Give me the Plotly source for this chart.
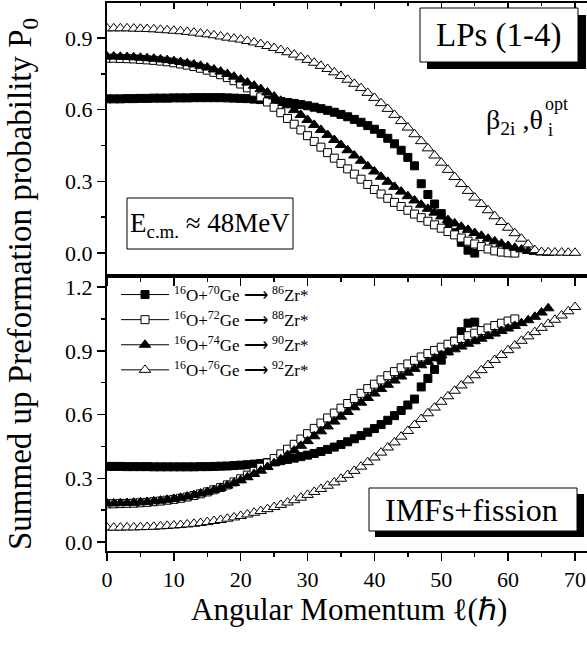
import plotly.graph_objects as go

FONT = "Liberation Serif, Times New Roman, serif"

# Angular momentum grid (hbar units)
ell = [0, 1, 2, 3, 4, 5, 6, 7, 8, 9, 10, 11, 12, 13, 14, 15, 16, 17, 18, 19,
       20, 21, 22, 23, 24, 25, 26, 27, 28, 29, 30, 31, 32, 33, 34, 35, 36, 37, 38, 39,
       40, 41, 42, 43, 44, 45, 46, 47, 48, 49, 50, 51, 52, 53, 54, 55, 56, 57, 58, 59,
       60, 61, 62, 63, 64, 65, 66, 67, 68, 69, 70]

# ---- upper panel: LPs (1-4) ----
lp_70 = [0.645, 0.645, 0.645, 0.646, 0.646, 0.647, 0.647, 0.648, 0.648, 0.648,
         0.649, 0.649, 0.649, 0.650, 0.650, 0.650, 0.650, 0.650, 0.649, 0.648,
         0.647, 0.646, 0.644, 0.642, 0.640, 0.637, 0.634, 0.630, 0.626, 0.621,
         0.616, 0.610, 0.604, 0.597, 0.589, 0.580, 0.570, 0.559, 0.547, 0.533,
         0.518, 0.500, 0.480, 0.457, 0.430, 0.400, 0.365, 0.290, 0.245, 0.205,
         0.165, 0.125, 0.085, 0.045, 0.012, 0.000]
lp_72 = [0.815, 0.815, 0.814, 0.813, 0.812, 0.810, 0.808, 0.806, 0.803, 0.800,
         0.796, 0.791, 0.786, 0.780, 0.773, 0.765, 0.756, 0.746, 0.734, 0.721,
         0.707, 0.691, 0.673, 0.653, 0.632, 0.610, 0.587, 0.563, 0.539, 0.515,
         0.491, 0.467, 0.443, 0.420, 0.397, 0.375, 0.352, 0.330, 0.309, 0.287,
         0.266, 0.247, 0.229, 0.212, 0.195, 0.179, 0.163, 0.148, 0.133, 0.118,
         0.104, 0.090, 0.076, 0.063, 0.050, 0.038, 0.027, 0.017, 0.009, 0.004,
         0.001, 0.000]
lp_74 = [0.822, 0.822, 0.821, 0.820, 0.819, 0.817, 0.815, 0.813, 0.810, 0.807,
         0.803, 0.799, 0.794, 0.789, 0.783, 0.776, 0.768, 0.759, 0.749, 0.738,
         0.726, 0.713, 0.700, 0.686, 0.672, 0.655, 0.637, 0.618, 0.598, 0.578,
         0.557, 0.536, 0.515, 0.494, 0.473, 0.452, 0.430, 0.408, 0.386, 0.363,
         0.341, 0.319, 0.298, 0.277, 0.257, 0.238, 0.220, 0.202, 0.185, 0.169,
         0.153, 0.138, 0.124, 0.110, 0.097, 0.084, 0.072, 0.060, 0.049, 0.039,
         0.030, 0.022, 0.015, 0.009, 0.005, 0.002, 0.001]
lp_76 = [0.940, 0.940, 0.940, 0.940, 0.939, 0.938, 0.937, 0.936, 0.934, 0.932,
         0.930, 0.928, 0.925, 0.922, 0.918, 0.915, 0.911, 0.906, 0.901, 0.897,
         0.893, 0.887, 0.881, 0.874, 0.866, 0.858, 0.849, 0.840, 0.830, 0.819,
         0.808, 0.796, 0.783, 0.770, 0.756, 0.741, 0.725, 0.708, 0.690, 0.670,
         0.649, 0.627, 0.603, 0.578, 0.552, 0.525, 0.497, 0.468, 0.438, 0.408,
         0.378, 0.348, 0.318, 0.289, 0.260, 0.232, 0.205, 0.179, 0.154, 0.130,
         0.106, 0.083, 0.060, 0.036, 0.012, 0.004, 0.003, 0.002, 0.002, 0.001,
         0.001]

# ---- lower panel: IMFs+fission ----
imf_70 = [0.356, 0.356, 0.356, 0.355, 0.355, 0.355, 0.355, 0.354, 0.354, 0.354,
          0.354, 0.354, 0.354, 0.354, 0.355, 0.355, 0.356, 0.357, 0.358, 0.360,
          0.362, 0.364, 0.367, 0.370, 0.374, 0.378, 0.383, 0.389, 0.395, 0.402,
          0.409, 0.417, 0.426, 0.436, 0.447, 0.459, 0.472, 0.486, 0.501, 0.517,
          0.534, 0.553, 0.573, 0.595, 0.619, 0.645, 0.673, 0.730, 0.770, 0.812,
          0.856, 0.900, 0.945, 0.990, 1.030, 1.035]
imf_72 = [0.180, 0.180, 0.181, 0.182, 0.183, 0.185, 0.187, 0.190, 0.193, 0.197,
          0.201, 0.206, 0.212, 0.219, 0.227, 0.236, 0.246, 0.257, 0.269, 0.283,
          0.298, 0.315, 0.333, 0.352, 0.372, 0.393, 0.415, 0.437, 0.460, 0.485,
          0.510, 0.535, 0.560, 0.584, 0.607, 0.630, 0.652, 0.675, 0.700, 0.722,
          0.743, 0.763, 0.783, 0.802, 0.820, 0.838, 0.855, 0.871, 0.887, 0.902,
          0.917, 0.931, 0.945, 0.958, 0.971, 0.983, 0.995, 1.007, 1.019, 1.030,
          1.040, 1.050]
imf_74 = [0.182, 0.182, 0.183, 0.184, 0.185, 0.187, 0.189, 0.192, 0.195, 0.199,
          0.203, 0.208, 0.214, 0.221, 0.228, 0.236, 0.245, 0.255, 0.266, 0.278,
          0.291, 0.305, 0.320, 0.336, 0.353, 0.371, 0.390, 0.410, 0.431, 0.453,
          0.475, 0.498, 0.521, 0.544, 0.567, 0.590, 0.612, 0.634, 0.656, 0.678,
          0.699, 0.720, 0.740, 0.760, 0.779, 0.797, 0.815, 0.832, 0.848, 0.864,
          0.879, 0.893, 0.907, 0.920, 0.933, 0.945, 0.957, 0.969, 0.981, 0.993,
          1.005, 1.017, 1.030, 1.044, 1.060, 1.080, 1.100]
imf_76 = [0.068, 0.068, 0.068, 0.069, 0.069, 0.070, 0.071, 0.072, 0.074, 0.076,
          0.078, 0.080, 0.083, 0.086, 0.090, 0.094, 0.099, 0.104, 0.110, 0.116,
          0.123, 0.130, 0.138, 0.146, 0.155, 0.165, 0.175, 0.186, 0.197, 0.209,
          0.222, 0.236, 0.250, 0.265, 0.281, 0.298, 0.316, 0.335, 0.355, 0.376,
          0.398, 0.421, 0.445, 0.469, 0.496, 0.523, 0.551, 0.579, 0.606, 0.633,
          0.660, 0.686, 0.712, 0.737, 0.761, 0.785, 0.809, 0.833, 0.857, 0.880,
          0.903, 0.925, 0.947, 0.968, 0.988, 1.008, 1.027, 1.046, 1.066, 1.086,
          1.106]

labels = [
    "<sup>16</sup>O+<sup>70</sup>Ge \u27f6 <sup>86</sup>Zr*",
    "<sup>16</sup>O+<sup>72</sup>Ge \u27f6 <sup>88</sup>Zr*",
    "<sup>16</sup>O+<sup>74</sup>Ge \u27f6 <sup>90</sup>Zr*",
    "<sup>16</sup>O+<sup>76</sup>Ge \u27f6 <sup>92</sup>Zr*",
]
symbols = ["square", "square", "triangle-up", "triangle-up"]
fills = ["black", "white", "black", "white"]
sizes = [8, 8, 10, 10]
lp_sets = [lp_70, lp_72, lp_74, lp_76]
imf_sets = [imf_70, imf_72, imf_74, imf_76]

# ---- geometry (pixels) ----
W, H = 587, 646
ML, MR, MT, MB = 107, 0, 3, 95
PW, PH = W - ML - MR, H - MT - MB
SPLIT = 276
XMAX = 71.8


def pxx(p):
    return (p - ML) / PW


def pxy(p):
    return (H - MB - p) / PH


split = pxy(SPLIT)

fig = go.Figure()
for lab, sym, fc, sz, lp, imf in zip(labels, symbols, fills, sizes, lp_sets, imf_sets):
    mk = dict(symbol=sym, size=sz, color=fc, line=dict(color="black", width=1))
    fig.add_trace(go.Scatter(x=ell[:len(imf)], y=imf, mode="markers", marker=mk,
                             xaxis="x", yaxis="y", showlegend=False))
    fig.add_trace(go.Scatter(x=ell[:len(lp)], y=lp, mode="markers", marker=mk,
                             xaxis="x2", yaxis="y2", showlegend=False))
    fig.add_trace(go.Scatter(x=[None], y=[None], mode="lines+markers", marker=mk,
                             line=dict(color="black", width=1), name=lab,
                             xaxis="x", yaxis="y", showlegend=True))
# carrier for the inward ticks along the top edge of the upper panel
fig.add_trace(go.Scatter(x=[None], y=[None], mode="markers", xaxis="x3", yaxis="y2",
                         showlegend=False, hoverinfo="skip"))

tickfont = dict(family=FONT, size=22, color="black")
ax_common = dict(showline=True, linewidth=2, linecolor="black", mirror=True,
                 ticks="outside", ticklen=8, tickwidth=1.5, tickcolor="black",
                 showgrid=False, zeroline=False, tickfont=tickfont)
minor = dict(ticks="outside", ticklen=4, tickwidth=1.5, tickcolor="black", showgrid=False)

fig.update_layout(
    width=W, height=H,
    margin=dict(l=ML, r=MR, t=MT, b=MB, autoexpand=False),
    paper_bgcolor="white", plot_bgcolor="white",
    font=dict(family=FONT, color="black"),
    hovermode=False,
    xaxis=dict(**ax_common, domain=[0, 1], anchor="y", range=[0, XMAX],
               tick0=0, dtick=10, minor=dict(**minor, dtick=5),
               ticklabeloverflow="allow"),
    xaxis2=dict(**ax_common, domain=[0, 1], anchor="y2", range=[0, XMAX],
                tick0=0, dtick=10, minor=dict(**minor, dtick=5), showticklabels=False),
    xaxis3=dict(overlaying="x2", anchor="y2", side="top", range=[0, XMAX],
                tick0=0, dtick=10, ticks="inside", ticklen=6, tickwidth=1.5,
                tickcolor="black", showticklabels=False, showgrid=False, zeroline=False,
                showline=False, minor=dict(ticks="inside", ticklen=3, tickwidth=1.5,
                                           tickcolor="black", dtick=5, showgrid=False)),
    yaxis=dict(**ax_common, domain=[0, split], anchor="x", range=[-0.042, 1.252],
               tick0=0, dtick=0.3, tickformat=".1f", minor=dict(**minor, dtick=0.15)),
    yaxis2=dict(**ax_common, domain=[split, 1], anchor="x2", range=[-0.096, 1.046],
                tick0=0, dtick=0.3, tickformat=".1f", minor=dict(**minor, dtick=0.15)),
    legend=dict(x=pxx(116), y=pxy(277), xanchor="left", yanchor="top",
                bgcolor="rgba(0,0,0,0)", borderwidth=0,
                font=dict(family=FONT, size=17, color="black"),
                itemwidth=48, tracegroupgap=0),
)

shapes = []
# LPs box with shadow
shapes.append(dict(type="rect", xref="paper", yref="paper", x0=pxx(427), x1=pxx(586),
                   y0=pxy(69), y1=pxy(15), fillcolor="black", line=dict(width=0), layer="above"))
shapes.append(dict(type="rect", xref="paper", yref="paper", x0=pxx(420), x1=pxx(578),
                   y0=pxy(62), y1=pxy(8), fillcolor="white", line=dict(color="black", width=1),
                   layer="above"))
# IMFs box with shadow
shapes.append(dict(type="rect", xref="paper", yref="paper", x0=pxx(375), x1=pxx(584),
                   y0=pxy(537), y1=pxy(494), fillcolor="black", line=dict(width=0), layer="above"))
shapes.append(dict(type="rect", xref="paper", yref="paper", x0=pxx(369), x1=pxx(577),
                   y0=pxy(531), y1=pxy(488), fillcolor="white", line=dict(color="black", width=1),
                   layer="above"))
# Energy box
shapes.append(dict(type="rect", xref="paper", yref="paper", x0=pxx(127), x1=pxx(293),
                   y0=pxy(249), y1=pxy(198), fillcolor="white", line=dict(color="black", width=1),
                   layer="above"))
fig.update_layout(shapes=shapes)

ann = []
ann.append(dict(text="LPs (1-4)", x=pxx(499), y=pxy(35), xref="paper", yref="paper",
                showarrow=False, font=dict(family=FONT, size=33, color="black"),
                xanchor="center", yanchor="middle"))
ann.append(dict(text="IMFs+fission", x=pxx(471), y=pxy(510), xref="paper", yref="paper",
                showarrow=False, font=dict(family=FONT, size=32, color="black"),
                xanchor="center", yanchor="middle"))
ann.append(dict(text="E<sub>c.m.</sub> \u2248 48MeV", x=pxx(210), y=pxy(225), xref="paper",
                yref="paper", showarrow=False, font=dict(family=FONT, size=27, color="black"),
                xanchor="center", yanchor="middle"))
ann.append(dict(text="\u03b2<sub>2i</sub> ,\u03b8", x=pxx(484), y=pxy(122), xref="paper",
                yref="paper", showarrow=False, font=dict(family=FONT, size=28, color="black"),
                xanchor="left", yanchor="middle"))
ann.append(dict(text="opt", x=pxx(543), y=pxy(104), xref="paper", yref="paper",
                showarrow=False, font=dict(family=FONT, size=18, color="black"),
                xanchor="left", yanchor="middle"))
ann.append(dict(text="i", x=pxx(546), y=pxy(130), xref="paper", yref="paper",
                showarrow=False, font=dict(family=FONT, size=18, color="black"),
                xanchor="left", yanchor="middle"))
# axis titles
ann.append(dict(text="Summed up Preformation probability P<sub>0</sub>", x=pxx(22),
                y=pxy(284), xref="paper", yref="paper", showarrow=False, textangle=-90,
                font=dict(family=FONT, size=33, color="black"),
                xanchor="center", yanchor="middle"))
ann.append(dict(text="Angular Momentum \u2113(\u210f)", x=pxx(349), y=pxy(609),
                xref="paper", yref="paper", showarrow=False,
                font=dict(family=FONT, size=31, color="black"),
                xanchor="center", yanchor="middle"))
fig.update_layout(annotations=ann)

# the page's default body margin would shift the figure by 8 px
fig.write_html("out.html",
               config={"displayModeBar": False, "staticPlot": True},
               post_script="document.body.style.margin='0px';"
                           "document.body.style.overflow='hidden';")
